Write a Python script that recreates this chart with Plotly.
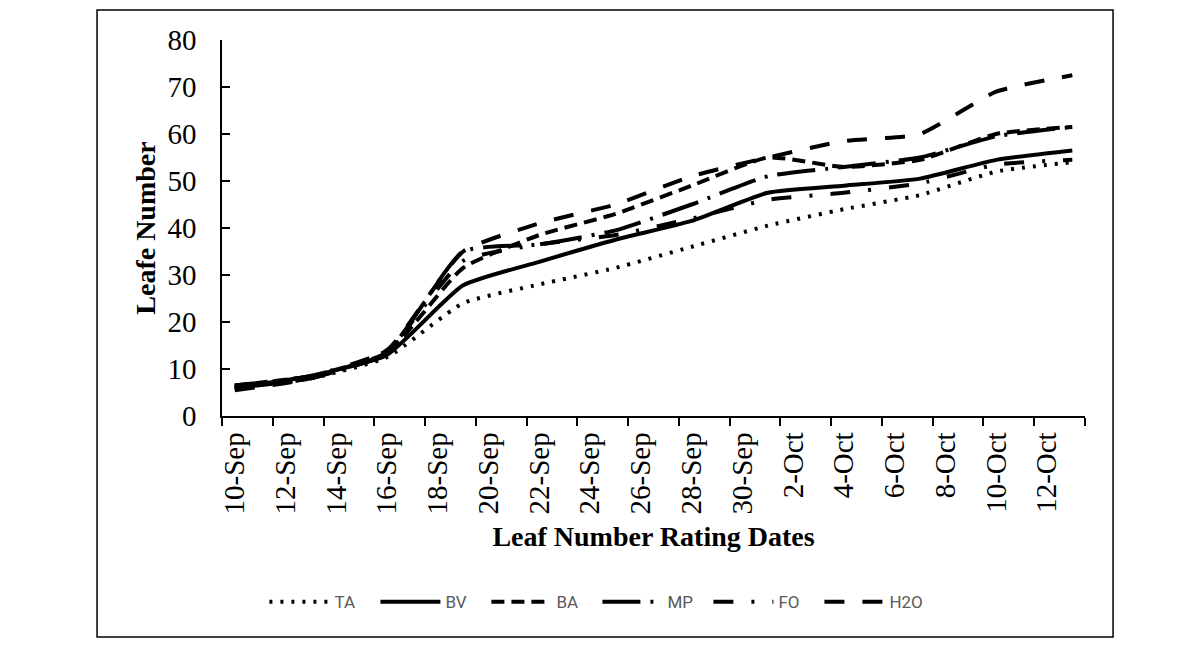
import plotly.graph_objects as go

# rating dates (every 3 days)
dates = ["2021-09-10", "2021-09-13", "2021-09-16", "2021-09-19", "2021-09-22", "2021-09-25",
         "2021-09-28", "2021-10-01", "2021-10-04", "2021-10-07", "2021-10-10", "2021-10-13"]

TA = [6.0, 8.0, 12.5, 24.0, 28.0, 31.5, 36.0, 40.5, 44.0, 47.0, 52.0, 54.0]
BV = [6.0, 8.5, 13.0, 27.8, 32.8, 37.5, 41.5, 47.5, 49.0, 50.5, 54.5, 56.5]
BA = [6.5, 8.5, 13.5, 31.5, 38.5, 43.0, 49.0, 55.0, 53.0, 54.5, 60.0, 61.5]
MP = [6.0, 8.0, 13.5, 35.0, 36.5, 39.5, 45.0, 51.0, 53.0, 55.0, 59.5, 61.5]
FO = [6.5, 8.5, 14.0, 33.0, 36.5, 38.5, 42.0, 46.0, 47.5, 49.5, 53.5, 54.5]
H2O = [5.5, 8.0, 14.0, 35.0, 41.0, 45.0, 51.0, 55.0, 58.5, 60.0, 69.0, 72.5]

tick_dates = ["2021-09-10", "2021-09-12", "2021-09-14", "2021-09-16", "2021-09-18", "2021-09-20",
              "2021-09-22", "2021-09-24", "2021-09-26", "2021-09-28", "2021-09-30", "2021-10-02",
              "2021-10-04", "2021-10-06", "2021-10-08", "2021-10-10", "2021-10-12"]
tick_labels = ["10-Sep", "12-Sep", "14-Sep", "16-Sep", "18-Sep", "20-Sep", "22-Sep", "24-Sep",
               "26-Sep", "28-Sep", "30-Sep", "2-Oct", "4-Oct", "6-Oct", "8-Oct", "10-Oct", "12-Oct"]

series = [
    ("TA", TA, "3px,8px"),
    ("BV", BV, "solid"),
    ("BA", BA, "13px,7px"),
    ("MP", MP, "38px,10px,3px,10px"),
    ("FO", FO, "20px,18px,3px,18px"),
    ("H2O", H2O, "20px,18px"),
]

serif = "Liberation Serif"

fig = go.Figure()
for name, vals, dash in series:
    fig.add_trace(go.Scatter(x=dates, y=vals, name=name, mode="lines",
                             line=dict(color="black", width=4, dash=dash,
                                       shape="spline", smoothing=0.5)))

# page body has an 8px margin, so the figure is 8px smaller and margins shifted
fig.update_layout(
    width=1193, height=643,
    margin=dict(l=214, r=116, t=32, b=235),
    paper_bgcolor="white", plot_bgcolor="white",
    showlegend=True,
    legend=dict(orientation="h", x=0.435, xanchor="center", y=-0.495, yanchor="middle",
                font=dict(family="Roboto", size=17, color="#595959"),
                entrywidth=36, itemwidth=60),
)

fig.update_yaxes(
    range=[0, 80], tickvals=list(range(0, 81, 10)),
    ticks="inside", ticklen=8, tickcolor="black", tickwidth=1.5,
    showline=True, linecolor="black", linewidth=1.5,
    showgrid=False, zeroline=False,
    ticklabelstandoff=18,
    tickfont=dict(family=serif, size=29, color="black"),
    title=dict(text="<b>Leafe Number</b>", standoff=4,
               font=dict(family=serif, size=28, color="black")),
)

fig.update_xaxes(
    type="date", range=["2021-09-09 12:00", "2021-10-13 12:00"],
    tickvals=tick_dates, ticktext=tick_labels, tickangle=-90, ticks="",
    minor=dict(ticks="outside", ticklen=8, tickcolor="black", tickwidth=1.5,
               tick0="2021-09-09 12:00", dtick=2 * 86400000, showgrid=False),
    showline=True, linecolor="black", linewidth=1.5,
    showgrid=False, zeroline=False,
    ticklabelstandoff=3,
    tickfont=dict(family=serif, size=29, color="black"),
    title=dict(text="<b>Leaf Number Rating Dates</b>", standoff=13,
               font=dict(family=serif, size=28, color="black")),
)

# outer chart border
fig.add_shape(type="rect", xref="paper", yref="paper",
              x0=-0.1448, x1=1.0325, y0=-0.5878, y1=1.0798,
              line=dict(color="black", width=1.5))

fig.write_html("out.html")
